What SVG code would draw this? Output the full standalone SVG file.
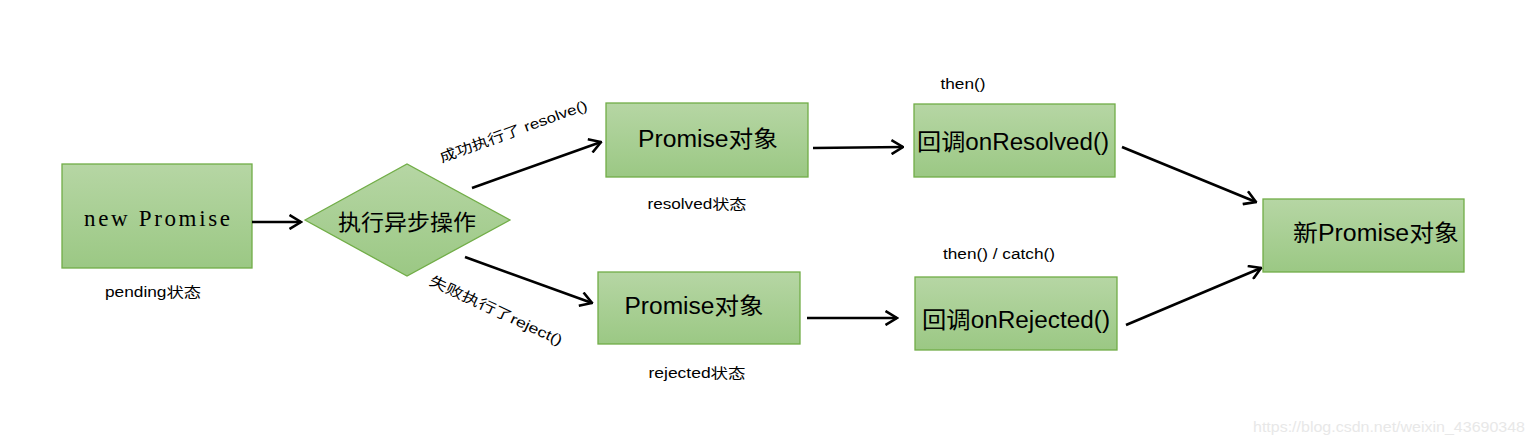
<svg xmlns="http://www.w3.org/2000/svg" width="1534" height="441" viewBox="0 0 1534 441">
<defs>
<linearGradient id="g" x1="0" y1="0" x2="0" y2="1">
<stop offset="0" stop-color="#b6d6a4"/>
<stop offset="1" stop-color="#9bc884"/>
</linearGradient>
<marker id="ah" viewBox="0 0 14 16" refX="12.5" refY="8" markerWidth="14" markerHeight="16" markerUnits="userSpaceOnUse" orient="auto">
<path d="M1,1 L12.5,8 L1,15" fill="none" stroke="#000" stroke-width="2.6"/>
</marker>
</defs>
<style>
.box{fill:url(#g);stroke:#71ad47;stroke-width:1.3}
.t{font-family:"Liberation Sans","Noto Sans CJK SC",sans-serif;fill:#000;text-anchor:middle}
.big{font-size:23px}
.sm{font-size:14px}
.serif{font-family:"Liberation Serif","Noto Sans CJK SC",serif;font-size:23px;fill:#000;text-anchor:middle}
.conn line{stroke:#000;stroke-width:2.6;marker-end:url(#ah)}
</style>
<rect width="1534" height="441" fill="#fff"/>
<g id="newPromise">
<rect class="box" x="62" y="164" width="190" height="104"/>
<text class="serif" x="157" y="226" textLength="146" lengthAdjust="spacing">new Promise</text>
<text class="t sm" x="153" y="297" textLength="96" lengthAdjust="spacingAndGlyphs">pending状态</text>
</g>
<g id="async">
<polygon class="box" points="305,220 407,164 510,220 407,276"/>
<text x="407" y="230" style="font-family:'Noto Sans CJK SC',sans-serif;font-size:22px;text-anchor:middle;fill:#000" textLength="138" lengthAdjust="spacingAndGlyphs">执行异步操作</text>
</g>
<g id="resolvedPromise">
<rect class="box" x="606" y="103" width="202" height="74"/>
<text class="t big" x="708" y="147" textLength="140" lengthAdjust="spacingAndGlyphs">Promise对象</text>
<text class="t sm" x="697" y="209" textLength="99" lengthAdjust="spacingAndGlyphs">resolved状态</text>
</g>
<g id="rejectedPromise">
<rect class="box" x="598" y="272" width="202" height="72"/>
<text class="t big" x="694" y="314" textLength="139" lengthAdjust="spacingAndGlyphs">Promise对象</text>
<text class="t sm" x="697" y="378" textLength="97" lengthAdjust="spacingAndGlyphs">rejected状态</text>
</g>
<g id="onResolved">
<rect class="box" x="914" y="104" width="201" height="73"/>
<text class="t big" x="1013" y="150" textLength="192" lengthAdjust="spacingAndGlyphs">回调onResolved()</text>
<text class="t sm" x="963" y="89" textLength="45" lengthAdjust="spacingAndGlyphs">then()</text>
</g>
<g id="onRejected">
<rect class="box" x="915" y="277" width="202" height="73"/>
<text class="t big" x="1016" y="328" textLength="188" lengthAdjust="spacingAndGlyphs">回调onRejected()</text>
<text class="t sm" x="999" y="259" textLength="112" lengthAdjust="spacingAndGlyphs">then() / catch()</text>
</g>
<g id="newPromiseObj">
<rect class="box" x="1263" y="199" width="201" height="73"/>
<text class="t big" x="1376" y="241" textLength="166" lengthAdjust="spacingAndGlyphs">新Promise对象</text>
</g>
<g id="connectors" class="conn">
<line x1="252" y1="222" x2="301" y2="222"/>
<line x1="472" y1="188" x2="601" y2="142"/>
<line x1="465" y1="257" x2="592" y2="303"/>
<line x1="813" y1="148" x2="903" y2="147"/>
<line x1="807" y1="318" x2="897" y2="318"/>
<line x1="1122" y1="147" x2="1256" y2="202"/>
<line x1="1126" y1="325" x2="1261" y2="268"/>
</g>
<g id="edgeLabels">
<text class="t sm" transform="translate(515,136) rotate(-20)" textLength="156" lengthAdjust="spacingAndGlyphs">成功执行了 resolve()</text>
<text class="t sm" transform="translate(494,315) rotate(25)" textLength="145" lengthAdjust="spacingAndGlyphs">失败执行了reject()</text>
</g>
<text x="1389" y="432" style="font-family:'Liberation Sans',sans-serif;font-size:14px;fill:#e8e8e8;text-anchor:middle" textLength="272" lengthAdjust="spacingAndGlyphs">https://blog.csdn.net/weixin_43690348</text>
</svg>
